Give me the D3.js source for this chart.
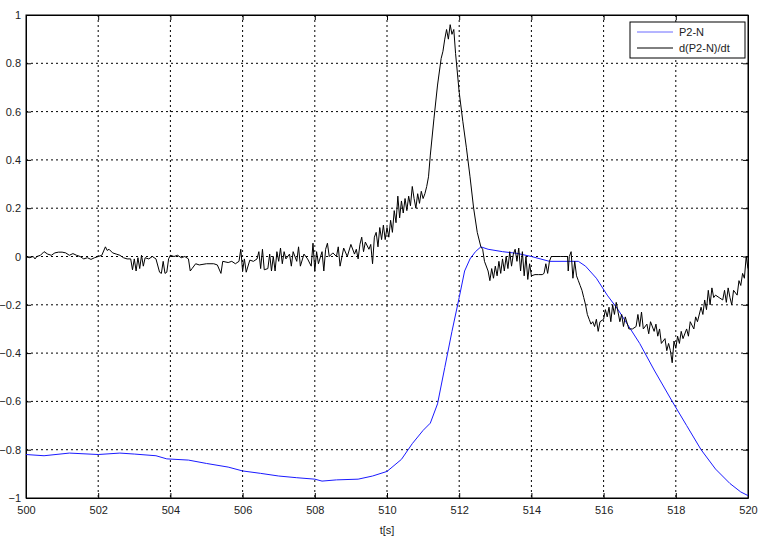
<!DOCTYPE html>
<html>
<head>
<meta charset="utf-8">
<script src="https://cdn.jsdelivr.net/npm/d3@7"></script>
<style>
  body { margin: 0; background: #fff; }
  svg { display: block; font-family: Arial, "Liberation Sans", sans-serif; }
</style>
</head>
<body>
<svg id="chart"></svg>
<script>
// ---- data ----
const xTicks = [500, 502, 504, 506, 508, 510, 512, 514, 516, 518, 520];
const yTicks = [-1, -0.8, -0.6, -0.4, -0.2, 0, 0.2, 0.4, 0.6, 0.8, 1];
const seriesNames = ["P2-N", "d(P2-N)/dt"];

// P2-N (blue)
const pTime = [500, 500.5, 501.2, 502, 502.6, 503, 503.6, 503.9, 504.5, 505, 505.6, 506,
  506.5, 507, 507.5, 508, 508.2, 508.6, 509.2, 509.6, 510, 510.4, 510.7, 511, 511.2,
  511.4, 511.6, 511.8, 512, 512.15, 512.3, 512.45, 512.6, 512.8, 513.2, 513.6, 514,
  514.5, 515, 515.3, 515.5, 515.8, 516.1, 516.4, 516.7, 517, 517.4, 517.9, 518.3,
  518.7, 519.1, 519.5, 519.8, 520];
const pValue = [-0.82, -0.825, -0.814, -0.82, -0.814, -0.818, -0.825, -0.838, -0.843,
  -0.857, -0.872, -0.888, -0.898, -0.909, -0.916, -0.922, -0.93, -0.925, -0.922, -0.909,
  -0.89, -0.84, -0.775, -0.72, -0.69, -0.61, -0.46, -0.31, -0.17, -0.06, -0.01, 0.02,
  0.04, 0.03, 0.02, 0.013, 0.0, -0.02, -0.02, -0.02, -0.04, -0.09, -0.16, -0.22, -0.29,
  -0.36, -0.47, -0.6, -0.7, -0.8, -0.88, -0.94, -0.975, -0.99];

// d(P2-N)/dt (black)
const dTime = [500, 500.1, 500.2, 500.25, 500.3, 500.4, 500.5, 500.6, 500.7, 500.8, 500.9,
  501, 501.1, 501.2, 501.3, 501.4, 501.5, 501.6, 501.7, 501.8, 501.9, 502, 502.1, 502.2,
  502.25, 502.3, 502.4, 502.5, 502.6, 502.7, 502.8, 502.9, 502.95, 503, 503.05, 503.1,
  503.15, 503.2, 503.25, 503.3, 503.4, 503.5, 503.6, 503.7, 503.75, 503.8, 503.85, 503.9,
  503.95, 504, 504.1, 504.2, 504.3, 504.4, 504.5, 504.55, 504.6, 504.7, 504.8, 505, 505.2,
  505.3, 505.4, 505.45, 505.6, 505.7, 505.8, 505.9, 505.95, 506, 506.05, 506.1, 506.2,
  506.3, 506.4, 506.45, 506.5, 506.55, 506.6, 506.7, 506.75, 506.8, 506.85, 506.9, 506.95,
  507, 507.05, 507.1, 507.15, 507.2, 507.3, 507.35, 507.4, 507.5, 507.55, 507.6, 507.7,
  507.8, 507.9, 507.95, 508, 508.05, 508.1, 508.2, 508.25, 508.3, 508.35, 508.4, 508.5,
  508.6, 508.65, 508.7, 508.8, 508.9, 509, 509.1, 509.15, 509.2, 509.25, 509.3, 509.35,
  509.4, 509.5, 509.55, 509.6, 509.65, 509.7, 509.75, 509.8, 509.85, 509.9, 509.95, 510,
  510.05, 510.1, 510.15, 510.2, 510.25, 510.3, 510.35, 510.4, 510.45, 510.5, 510.55, 510.6,
  510.65, 510.7, 510.75, 510.8, 510.85, 510.9, 510.95, 511, 511.05, 511.1, 511.15, 511.2,
  511.3, 511.4, 511.5, 511.55, 511.6, 511.65, 511.7, 511.75, 511.8, 511.85, 511.9, 512,
  512.1, 512.2, 512.3, 512.4, 512.5, 512.6, 512.65, 512.7, 512.8, 512.85, 512.9, 512.95,
  513, 513.05, 513.1, 513.15, 513.2, 513.25, 513.3, 513.35, 513.4, 513.45, 513.5, 513.55,
  513.6, 513.65, 513.7, 513.75, 513.8, 513.85, 513.9, 513.95, 514, 514.1, 514.2, 514.3,
  514.35, 514.4, 514.45, 514.5, 514.55, 514.7, 514.8, 514.9, 515, 515.02, 515.05, 515.1,
  515.15, 515.2, 515.25, 515.3, 515.35, 515.4, 515.45, 515.5, 515.55, 515.6, 515.65, 515.7,
  515.75, 515.8, 515.85, 515.9, 516, 516.05, 516.1, 516.15, 516.2, 516.25, 516.3, 516.35,
  516.4, 516.45, 516.5, 516.55, 516.6, 516.7, 516.8, 516.9, 516.95, 517, 517.05, 517.1,
  517.2, 517.25, 517.3, 517.4, 517.45, 517.5, 517.55, 517.6, 517.7, 517.75, 517.8, 517.85,
  517.9, 517.95, 518, 518.05, 518.1, 518.15, 518.2, 518.3, 518.35, 518.4, 518.5, 518.55,
  518.6, 518.7, 518.75, 518.8, 518.85, 518.9, 518.95, 519, 519.05, 519.1, 519.2, 519.3,
  519.35, 519.4, 519.45, 519.5, 519.55, 519.6, 519.7, 519.75, 519.8, 519.85, 519.9, 519.95, 520];
const dValue = [0, -0.005, 0, -0.01, 0, 0.005, 0.02, 0.01, 0.005, 0.015, 0.018,
  0.018, 0.015, 0.005, 0.012, 0.005, 0, -0.01, -0.005, -0.012, -0.005, 0, 0.005, 0.04,
  0.025, 0.03, 0.015, 0.01, 0.005, -0.005, -0.01, -0.01, -0.055, -0.01, -0.06, -0.005,
  -0.05, 0.005, -0.04, -0.005, -0.01, 0, -0.01, -0.065, -0.07, -0.02, -0.07, -0.065,
  -0.01, 0.005, 0, 0.005, -0.005, 0, -0.01, -0.06, -0.05, -0.03, -0.035, -0.03, -0.03,
  -0.035, -0.07, -0.02, -0.025, -0.02, -0.03, -0.02, 0.03, -0.06, -0.01, -0.065, -0.015,
  -0.02, -0.01, 0.02, -0.05, 0.03, -0.055, -0.05, 0.01, -0.06, 0, -0.06, 0.02,
  -0.02, 0.035, -0.03, 0.02, -0.01, 0.01, -0.04, 0.02, -0.02, 0.04, -0.04, 0.01,
  -0.01, -0.04, 0.055, -0.06, 0.02, -0.03, 0.02, -0.06, 0.03, 0.055, 0, 0.015,
  0, 0.04, -0.04, 0.035, 0, 0.05, 0.01, 0.03, -0.01, 0.05, 0.08, 0.02,
  0.06, 0.03, 0.05, -0.03, 0.08, 0.1, 0.04, 0.12, 0.07, 0.13, 0.07, 0.12,
  0.08, 0.15, 0.1, 0.19, 0.14, 0.25, 0.16, 0.23, 0.18, 0.24, 0.19, 0.25,
  0.21, 0.29, 0.24, 0.2, 0.26, 0.22, 0.27, 0.24, 0.26, 0.29, 0.33, 0.42,
  0.57, 0.71, 0.82, 0.85, 0.9, 0.94, 0.9, 0.96, 0.92, 0.94, 0.84, 0.68,
  0.56, 0.45, 0.33, 0.2, 0.1, 0.04, 0.03, -0.02, -0.06, -0.1, -0.05, -0.09,
  -0.04, -0.08, -0.02, -0.07, -0.01, -0.06, 0, -0.05, 0.02, -0.04, 0.01, 0.03,
  -0.02, 0.035, -0.06, 0.02, -0.08, 0, -0.095, -0.03, -0.08, -0.075, -0.075, -0.075,
  -0.07, -0.03, -0.07, -0.02, 0, 0, 0, 0, 0, -0.06, 0, 0.02,
  -0.09, -0.02, -0.08, -0.1, -0.12, -0.14, -0.17, -0.2, -0.24, -0.26, -0.28, -0.27,
  -0.29, -0.26, -0.31, -0.27, -0.26, -0.22, -0.25, -0.21, -0.27, -0.2, -0.24, -0.19,
  -0.23, -0.27, -0.24, -0.29, -0.25, -0.3, -0.3, -0.29, -0.24, -0.29, -0.23, -0.3,
  -0.28, -0.32, -0.27, -0.31, -0.28, -0.33, -0.3, -0.36, -0.34, -0.39, -0.36, -0.39,
  -0.44, -0.35, -0.38, -0.33, -0.36, -0.31, -0.34, -0.3, -0.33, -0.27, -0.3, -0.25,
  -0.27, -0.21, -0.24, -0.18, -0.22, -0.14, -0.2, -0.13, -0.17, -0.16, -0.17, -0.18,
  -0.14, -0.19, -0.13, -0.17, -0.2, -0.14, -0.16, -0.1, -0.12, -0.07, -0.09, 0, -0.05];

// ---- layout ----
var margin = { top: 15, right: 14, bottom: 44, left: 26 },
  width = 762 - margin.left - margin.right,
  height = 542 - margin.top - margin.bottom;

const svg = d3.select("#chart").attr("width", 762).attr("height", 542);
const g = svg.append("g").attr("transform", `translate(${margin.left}, ${margin.top})`);

const x = d3.scaleLinear().domain([500, 520]).range([0, width]);
const y = d3.scaleLinear().domain([-1, 1]).range([height, 0]);

// dotted grid
g.append("g")
  .selectAll("line.vgrid")
  .data(xTicks.slice(1, -1))
  .join("line")
  .attr("x1", d => x(d)).attr("x2", d => x(d))
  .attr("y1", 0).attr("y2", height)
  .attr("stroke", "#000").attr("stroke-dasharray", "2,3");
g.append("g")
  .selectAll("line.hgrid")
  .data(yTicks.slice(1, -1))
  .join("line")
  .attr("x1", 0).attr("x2", width)
  .attr("y1", d => y(d)).attr("y2", d => y(d))
  .attr("stroke", "#000").attr("stroke-dasharray", "2,3");

// axes, ticks pointing inward like matlab
const fmt = d => (Math.abs(d) < 1e-9 ? "0" : d3.format("")(+d.toFixed(1)));
const xAxis = g.append("g")
  .attr("transform", `translate(0, ${height})`)
  .call(d3.axisBottom(x).tickValues(xTicks).tickSize(-5).tickSizeOuter(0).tickPadding(8));
const yAxis = g.append("g")
  .call(d3.axisLeft(y).tickValues(yTicks).tickFormat(fmt).tickSize(-5).tickSizeOuter(0).tickPadding(5));
g.append("g").call(d3.axisTop(x).tickValues(xTicks).tickSize(-5).tickSizeOuter(0).tickFormat(""));
g.append("g").attr("transform", `translate(${width}, 0)`)
  .call(d3.axisRight(y).tickValues(yTicks).tickSize(-5).tickSizeOuter(0).tickFormat(""));

svg.selectAll(".tick text").attr("font-size", "11px").attr("fill", "#222")
  .attr("font-family", "Arial, 'Liberation Sans', sans-serif");
svg.selectAll(".domain").attr("stroke", "#000");

// frame
g.append("rect").attr("width", width).attr("height", height)
  .attr("fill", "none").attr("stroke", "#000");

// lines
const line = d3.line().x(d => x(d[0])).y(d => y(d[1]));
const pData = pTime.map((t, i) => [t, pValue[i]]);
const dData = dTime.map((t, i) => [t, dValue[i]]);

g.append("path").datum(pData).attr("d", line)
  .attr("fill", "none").attr("stroke", "#1a1aff").attr("stroke-width", 1);
g.append("path").datum(dData).attr("d", line)
  .attr("fill", "none").attr("stroke", "#000").attr("stroke-width", 1);

// x label
svg.append("text")
  .attr("x", margin.left + width / 2).attr("y", 534)
  .attr("text-anchor", "middle").attr("font-size", "11px").attr("fill", "#222")
  .text("t[s]");

// legend
const legend = svg.append("g").attr("transform", "translate(630, 22)");
legend.append("rect").attr("width", 115).attr("height", 36)
  .attr("fill", "#fff").attr("stroke", "#000");
const legendColors = ["#6a6aff", "#000"];
seriesNames.forEach((name, i) => {
  legend.append("line")
    .attr("x1", 7).attr("x2", 43)
    .attr("y1", 10 + i * 16).attr("y2", 10 + i * 16)
    .attr("stroke", legendColors[i]);
  legend.append("text")
    .attr("x", 49).attr("y", 14 + i * 16)
    .attr("font-size", "11px").attr("fill", "#222")
    .text(name);
});
</script>
</body>
</html>
